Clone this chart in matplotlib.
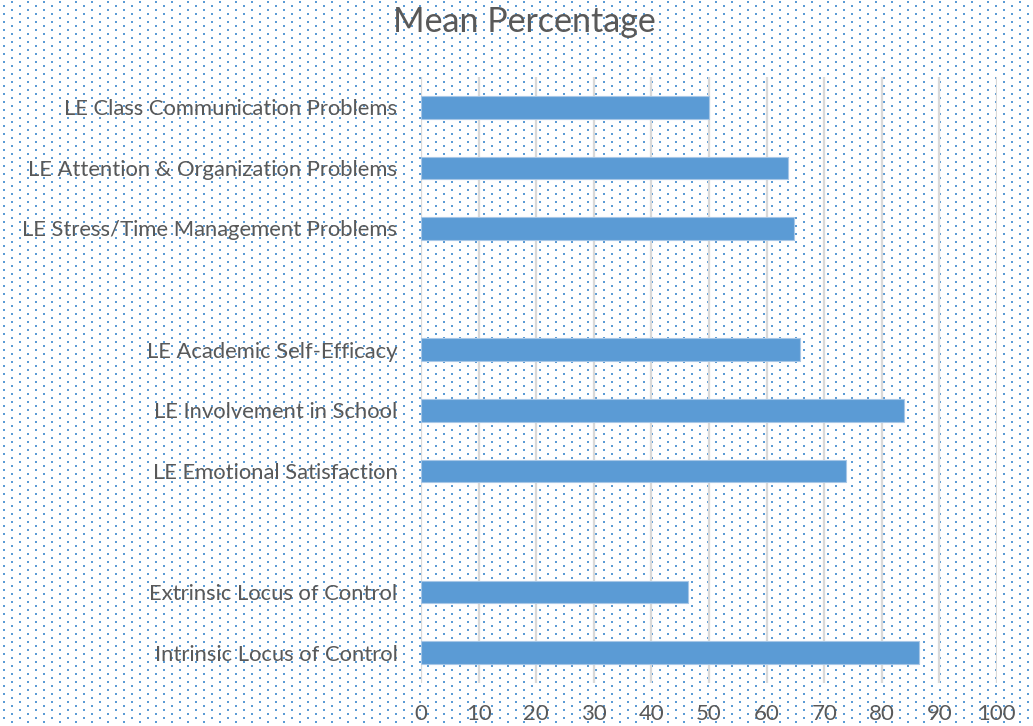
import numpy as np
import matplotlib.pyplot as plt

# rows listed bottom to top; empty strings are the spacer rows
categories = [
    "Intrinsic Locus of Control",
    "Extrinsic Locus of Control",
    "",
    "LE Emotional Satisfaction",
    "LE Involvement in School",
    "LE Academic Self-Efficacy",
    "",
    "LE Stress/Time Management Problems",
    "LE Attention & Organization Problems",
    "LE Class Communication Problems",
]
values = [86.5, 46.4, np.nan, 73.7, 83.9, 65.8, np.nan, 64.8, 63.7, 50.0]
x_ticks = list(range(0, 101, 10))

text_color = "#595959"
bar_color = "#5B9BD5"
plt.rcParams["font.family"] = ["Lato", "DejaVu Sans"]

W, H = 1033, 726
fig = plt.figure(figsize=(W / 100, H / 100), dpi=100)

# dotted background pattern over the whole figure
bg = fig.add_axes([0, 0, 1, 1], zorder=0)
bg.set_xlim(0, W)
bg.set_ylim(H, 0)
bg.axis("off")
dots_x, dots_y = [], []
for r, y in enumerate(np.arange(2, H, 4)):
    off = 12 if r % 2 == 0 else 4
    xs = np.arange(off, W, 16)
    dots_x.extend(xs)
    dots_y.extend([y] * len(xs))
bg.scatter(dots_x, dots_y, s=3.2, marker="s", color=bar_color, linewidths=0)

ax = fig.add_axes([421 / W, 1 - 683 / H, (997 - 421) / W, (683 - 77) / H], zorder=1)
ax.patch.set_alpha(0)

pos = np.arange(len(categories))
ax.barh(pos, values, height=0.37, color=bar_color, edgecolor="#A7C7E7",
        linewidth=0.8, zorder=3)

ax.set_xlim(0, 100)
ax.set_ylim(-0.5, len(categories) - 0.5)
ax.set_xticks(x_ticks)
ax.set_yticks(pos)
ax.set_yticklabels(categories)
ax.grid(axis="x", color="#D9D9D9", linewidth=1.6, zorder=0)
ax.set_axisbelow(True)
for s in ax.spines.values():
    s.set_visible(False)
ax.tick_params(axis="x", length=0, pad=15, labelsize=16, labelcolor=text_color)
ax.tick_params(axis="y", length=0, pad=17, labelsize=15.8, labelcolor=text_color)

fig.text(524 / W, 1 - 22 / H, "Mean Percentage", ha="center", va="center",
         fontsize=24.5, color=text_color)

fig.savefig("out.png", dpi=100)
